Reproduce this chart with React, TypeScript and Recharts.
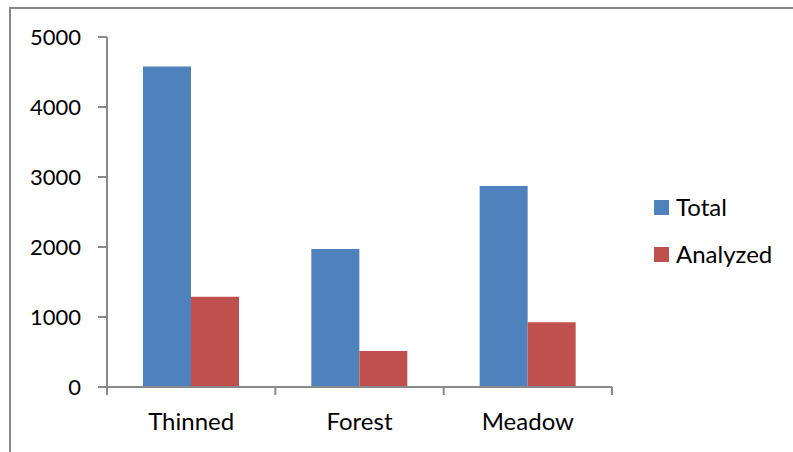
import { BarChart, Bar, XAxis, YAxis, Legend } from 'recharts';

const sites = ['Thinned', 'Forest', 'Meadow'];
const totalCounts = [4580, 1970, 2870];
const analyzedCounts = [1290, 515, 925];
const yTicks = [0, 1000, 2000, 3000, 4000, 5000];

const data = sites.map((site, i) => ({
  site,
  Total: totalCounts[i],
  Analyzed: analyzedCounts[i],
}));

const FONT = 'Lato, "DejaVu Sans", sans-serif';
const AXIS_GRAY = '#898989';
const WIDTH = 793;
const HEIGHT = 452;
const X_AXIS_HEIGHT = 30;
const MARGIN = { top: 37, right: 181, bottom: 65 - X_AXIS_HEIGHT, left: 10 };
const Y_AXIS_WIDTH = 97;
const BAND = (WIDTH - MARGIN.left - Y_AXIS_WIDTH - MARGIN.right) / sites.length;

const series = [
  { key: 'Total', color: '#4F81BD' },
  { key: 'Analyzed', color: '#C0504D' },
];

// category label centred in the band, tick marks on the band edges
function SiteTick(props: any) {
  const { x, y, payload, index } = props;
  const left = x - BAND / 2;
  return (
    <g>
      <line x1={left} y1={y} x2={left} y2={y + 8} stroke={AXIS_GRAY} strokeWidth={2} />
      {index === sites.length - 1 && (
        <line x1={left + BAND} y1={y} x2={left + BAND} y2={y + 8} stroke={AXIS_GRAY} strokeWidth={2} />
      )}
      <text x={x} y={y + 43} textAnchor="middle" fontSize={24} fontFamily={FONT} fill="#000">
        {payload.value}
      </text>
    </g>
  );
}

function SideLegend() {
  return (
    <div style={{ fontFamily: FONT, fontSize: 24, color: '#000' }}>
      {series.map((s, i) => (
        <div
          key={s.key}
          style={{ display: 'flex', alignItems: 'center', height: 16, marginBottom: i === 0 ? 31 : 0 }}
        >
          <span style={{ width: 15, height: 15, background: s.color, marginRight: 7 }} />
          <span style={{ lineHeight: '16px' }}>{s.key}</span>
        </div>
      ))}
    </div>
  );
}

export default function App() {
  return (
    <div style={{ position: 'absolute', left: 0, top: 0, width: WIDTH, height: HEIGHT, background: '#fff', overflow: 'hidden' }}>
      <div
        style={{
          position: 'absolute',
          left: 9,
          top: 7,
          width: WIDTH,
          height: HEIGHT,
          borderTop: `2px solid ${AXIS_GRAY}`,
          borderLeft: `2px solid ${AXIS_GRAY}`,
        }}
      />
      <BarChart width={WIDTH} height={HEIGHT} data={data} margin={MARGIN} barGap={0} barSize={48}>
        <XAxis
          dataKey="site"
          height={X_AXIS_HEIGHT}
          axisLine={{ stroke: AXIS_GRAY, strokeWidth: 2 }}
          tickLine={false}
          tickSize={0}
          tickMargin={0}
          tick={<SiteTick />}
          interval={0}
        />
        <YAxis
          width={Y_AXIS_WIDTH}
          domain={[0, 5000]}
          ticks={yTicks}
          interval={0}
          axisLine={{ stroke: AXIS_GRAY, strokeWidth: 2 }}
          tickLine={{ stroke: AXIS_GRAY, strokeWidth: 2 }}
          tickSize={9}
          tickMargin={17}
          tick={{ fontSize: 22, fontFamily: FONT, fill: '#000' }}
        />
        <Legend
          layout="vertical"
          align="center"
          verticalAlign="middle"
          wrapperStyle={{ left: 654, top: 199, width: 140 }}
          content={<SideLegend />}
        />
        {series.map((s) => (
          <Bar key={s.key} dataKey={s.key} fill={s.color} isAnimationActive={false} />
        ))}
      </BarChart>
    </div>
  );
}
